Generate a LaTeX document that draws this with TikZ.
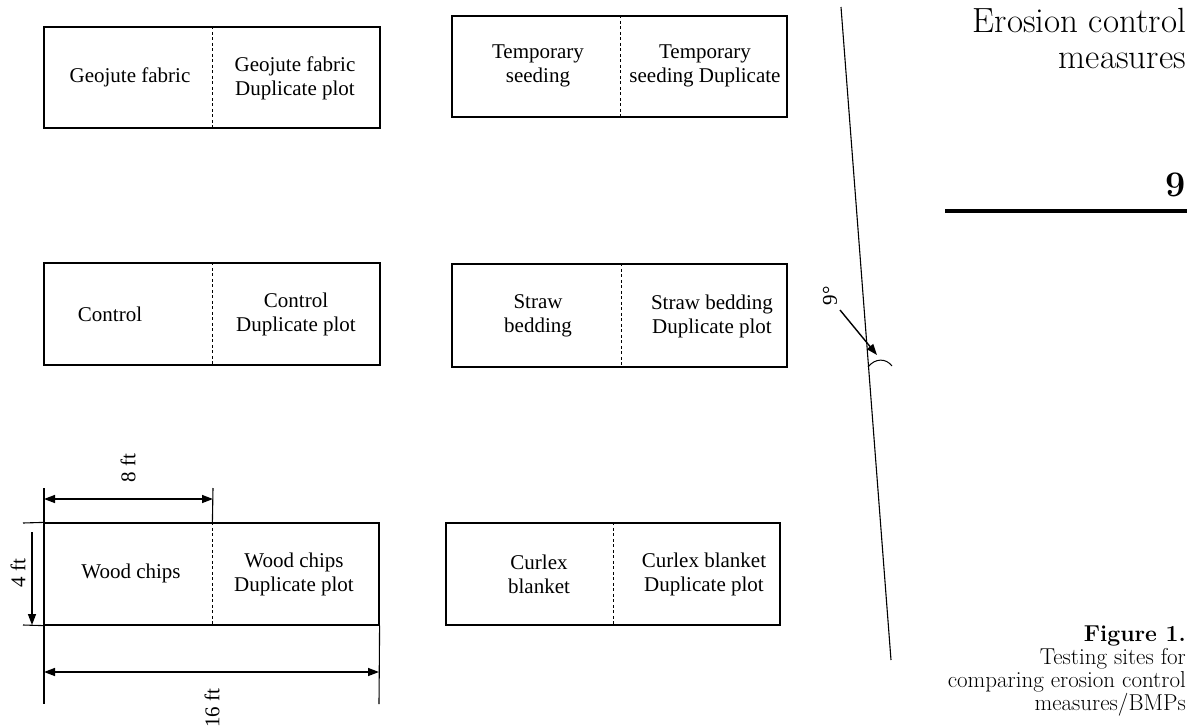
\documentclass[tikz,border=0pt]{standalone}
\usepackage{fontspec}
\newfontfamily\boxfont{Liberation Serif}
\usetikzlibrary{arrows.meta}
\begin{document}
\begin{tikzpicture}[x=1pt,y=-1pt,
  plotbox/.style={draw, line width=1.2pt, inner sep=0pt, rectangle},
  divider/.style={line width=1.1pt, dash pattern=on 3pt off 2.5pt},
  plottext/.style={font=\boxfont\fontsize{21}{24}\selectfont, align=center, inner sep=0pt},
  dimline/.style={line width=1.1pt},
  dimarrow/.style={line width=1.4pt, {Triangle[length=11pt,width=8pt]}-{Triangle[length=11pt,width=8pt]}},
  onearrow/.style={line width=1.4pt, -{Triangle[length=11pt,width=8pt]}},
  dimtext/.style={font=\boxfont\fontsize{21}{24}\selectfont, rotate=90, inner sep=0pt},
  sidetext/.style={inner sep=0pt, anchor=base east}
]
\useasboundingbox (0,0) rectangle (1187,726);

% plots
\node[plotbox, minimum width=336pt, minimum height=101pt] (b1) at (212,77.5) {};
\node[plotbox, minimum width=335pt, minimum height=101pt] (b2) at (619.5,66.5) {};
\node[plotbox, minimum width=336pt, minimum height=102pt] (b3) at (212,314) {};
\node[plotbox, minimum width=335pt, minimum height=103pt] (b4) at (619.5,315.5) {};
\node[plotbox, minimum width=335pt, minimum height=102pt] (b5) at (211.5,574) {};
\node[plotbox, minimum width=334pt, minimum height=102pt] (b6) at (613,574) {};

\draw[divider] ([xshift=169pt]b1.north west) -- ([xshift=169pt]b1.south west);
\draw[divider] ([xshift=169pt]b2.north west) -- ([xshift=169pt]b2.south west);
\draw[divider] ([xshift=169pt]b3.north west) -- ([xshift=169pt]b3.south west);
\draw[divider] ([xshift=170pt]b4.north west) -- ([xshift=170pt]b4.south west);
\draw[divider] ([xshift=169pt]b5.north west) -- ([xshift=169pt]b5.south west);
\draw[divider] ([xshift=168pt]b6.north west) -- ([xshift=168pt]b6.south west);

% texts
\node[plottext] (t1a) at (130,77) {Geojute fabric};
\node[plottext] (t1b) at (295,78) {Geojute fabric\\Duplicate plot};
\node[plottext] (t2a) at (538,66) {Temporary\\seeding};
\node[plottext] (t2b) at (705,66) {Temporary\\seeding Duplicate};
\node[plottext] (t3a) at (110,314) {Control};
\node[plottext] (t3b) at (296,314) {Control\\Duplicate plot};
\node[plottext] (t4a) at (538,316) {Straw\\bedding};
\node[plottext] (t4b) at (712,316) {Straw bedding\\Duplicate plot};
\node[plottext] (t5a) at (131,573) {Wood chips};
\node[plottext] (t5b) at (294,574) {Wood chips\\Duplicate plot};
\node[plottext] (t6a) at (539,574) {Curlex\\blanket};
\node[plottext] (t6b) at (704,574) {Curlex blanket\\Duplicate plot};

% dimensions
\coordinate (lt) at (23,523);
\coordinate (lb) at (23,625);
\coordinate (ex1) at (44,488);
\coordinate (ex2) at (44,704);
\coordinate (ex3) at (213,488);
\coordinate (ex4) at (379,704);
\draw[dimline] (lt) -- (b5.north west);
\draw[dimline] (lb) -- (b5.south west);
\draw[dimline] (ex1) -- (ex2);
\draw[dimline] (ex3) -- ([xshift=169pt]b5.north west);
\draw[dimline] (b5.south east) -- (ex4);
\coordinate (a8l) at (44,499);
\coordinate (a8r) at (213,499);
\coordinate (a16l) at (44,672);
\coordinate (a16r) at (379,672);
\coordinate (a4t) at (32,532);
\coordinate (a4b) at (32,625);
\draw[dimarrow] (a8l) -- (a8r);
\draw[dimarrow] (a16l) -- (a16r);
\draw[onearrow] (a4t) -- (a4b);
\node[dimtext] (l8) at (128,468) {8 ft};
\node[dimtext] (l4) at (18,573) {4 ft};
\node[dimtext] (l16) at (212,708) {16 ft};

% slope line
\coordinate (st) at (841,7);
\coordinate (sb) at (891,660);
\draw[line width=1.1pt] (st) -- (sb);
\coordinate (ga) at (840,310);
\coordinate (gb) at (877,355);
\draw[onearrow] (ga) -- (gb);
\coordinate (c1) at (868,367);
\coordinate (c2) at (892,366);
\draw[line width=1pt] (c1) .. controls (875,358) and (886,358) .. (c2);
\node[dimtext] (l9) at (830,296) {9°};

% side texts
\node[inner sep=0pt, anchor=north east, align=right, font=\fontsize{35}{36}\selectfont] (s1) at (1186,8) {Erosion control\\measures};
\node[sidetext, font=\bfseries\fontsize{36}{36}\selectfont] (s3) at (1186,196) {9};
\coordinate (r1) at (945,211);
\coordinate (r2) at (1187,211);
\draw[line width=4pt] (r1) -- (r2);
\node[inner sep=0pt, anchor=north east, align=right, font=\fontsize{23}{23}\selectfont] (f1) at (1186,626) {\textbf{Figure 1.}\\Testing sites for\\comparing erosion control\\measures/BMPs};
\end{tikzpicture}
\end{document}
